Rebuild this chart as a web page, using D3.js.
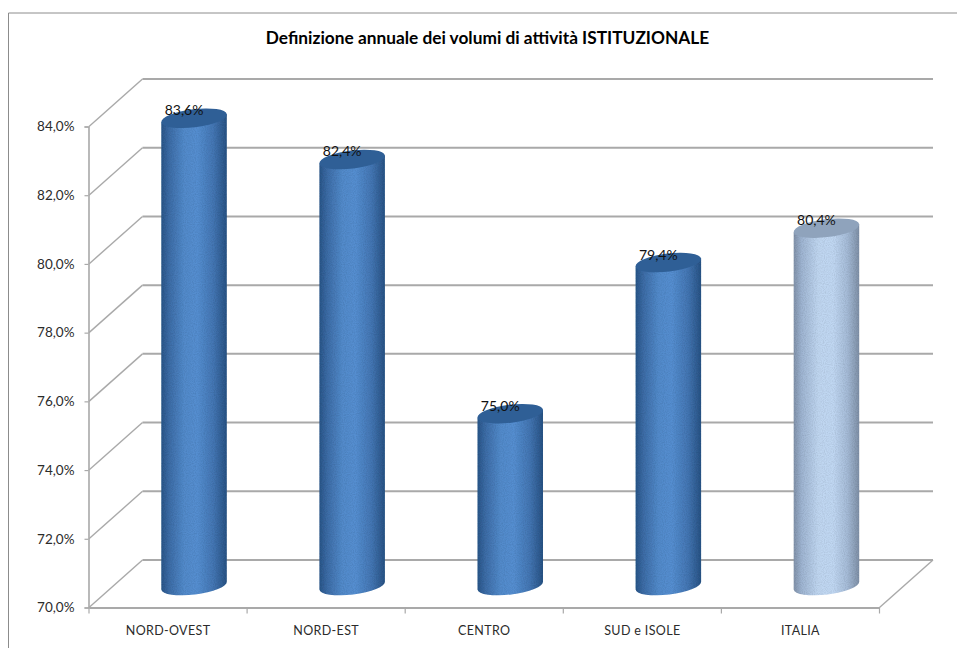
<!DOCTYPE html>
<html><head><meta charset="utf-8">
<script src="https://cdn.jsdelivr.net/npm/d3@7"></script>
<style>
html,body{margin:0;padding:0;background:#fff;overflow:hidden}
text{font-family:Lato,"Open Sans",sans-serif;fill:#1a1a1a}
</style></head><body>
<svg id="c" width="957" height="648"></svg>
<script>
const categories = ["NORD-OVEST","NORD-EST","CENTRO","SUD e ISOLE","ITALIA"];
const values = [83.6,82.4,75.0,79.4,80.4];
const labels = ["83,6%","82,4%","75,0%","79,4%","80,4%"];
const ticks = [70,72,74,76,78,80,82,84];
const title = "Definizione annuale dei volumi di attività ISTITUZIONALE";

const svg = d3.select("#c");
const x = d3.scaleBand().domain(categories).range([89,879.5]);
const y = d3.scaleLinear().domain([70,84]).range([607.5,126.5]);
const dx = 53.5, dy = -47.5;
const gridCol="#a9a9a9";

// frame (open on the right, cut off at the bottom)
svg.append("path").attr("d","M8.5,648V13H957").attr("fill","none").attr("stroke","#8c8c8c").attr("stroke-width",1);

svg.append("text").attr("x",487.5).attr("y",44).attr("text-anchor","middle")
  .attr("font-size",17.3).attr("font-weight",700).style("fill","#000").text(title);

// gradients and surface grain
const defs = svg.append("defs");
function grad(id,stops){
  const g=defs.append("linearGradient").attr("id",id).attr("x1",0).attr("x2",1).attr("y1",0).attr("y2",0);
  stops.forEach(s=>g.append("stop").attr("offset",s[0]).attr("stop-color",s[1]));
}
grad("blue",[[0,"#2a5588"],[.12,"#3d6ca6"],[.35,"#528aca"],[.55,"#558ed0"],[.8,"#4375b2"],[1,"#295384"]]);
grad("light",[[0,"#8192aa"],[.12,"#9eb4d1"],[.38,"#bfd6f0"],[.6,"#c0d7f2"],[.82,"#a4bad6"],[1,"#7e8fa6"]]);
const grain = defs.append("filter").attr("id","grain").attr("x",0).attr("y",0).attr("width","100%").attr("height","100%");
grain.append("feTurbulence").attr("type","fractalNoise").attr("baseFrequency",0.9).attr("numOctaves",1).attr("seed",4).attr("result","n");
grain.append("feColorMatrix").attr("in","n").attr("type","matrix")
  .attr("values","0 0 0 0 0  0 0 0 0 0  0 0 0 0 0  0.4 0 0 0 -0.15").attr("result","a");
grain.append("feComposite").attr("in","a").attr("in2","SourceAlpha").attr("operator","in").attr("result","g");
const m = grain.append("feMerge");
m.append("feMergeNode").attr("in","SourceGraphic");
m.append("feMergeNode").attr("in","g");

// walls: gridlines
const grid = svg.append("g").attr("fill","none");
ticks.forEach(t=>{
  grid.append("line").attr("x1",x.range()[0]).attr("x2",x.range()[0]+dx)
    .attr("y1",y(t)).attr("y2",y(t)+dy).attr("stroke",gridCol).attr("stroke-width",1.4);
  grid.append("line").attr("x1",x.range()[0]+dx).attr("x2",x.range()[1]+dx)
    .attr("y1",y(t)+dy).attr("y2",y(t)+dy).attr("stroke",gridCol).attr("stroke-width",2);
});
grid.append("line").attr("x1",x.range()[1]).attr("x2",x.range()[1]+dx)
  .attr("y1",y(70)).attr("y2",y(70)+dy).attr("stroke",gridCol).attr("stroke-width",1.4);

// axes
const ax = svg.append("g").attr("transform","translate(88.5,0)")
  .call(d3.axisLeft(y).tickValues(ticks).tickSize(4).tickPadding(10).tickFormat(d=>d.toFixed(1).replace(".",",")+"%"));
ax.select(".domain").attr("stroke",gridCol).attr("stroke-width",1.6);
ax.selectAll("line").attr("stroke",gridCol).attr("stroke-width",1.2);
ax.selectAll("text").attr("font-size",13.5).style("font-family","Lato,sans-serif").style("fill","#2b2b2b");

const bx = svg.append("g").attr("transform",`translate(0,${y(70)})`)
  .call(d3.axisBottom(x).tickSize(0).tickPadding(19));
bx.select(".domain").attr("stroke",gridCol).attr("stroke-width",2);
bx.selectAll("text").attr("font-size",12.5).style("font-family","Lato,sans-serif").style("fill","#2b2b2b").attr("letter-spacing",".35");
const edges = categories.map(c=>x(c)).concat([x.range()[1]]);
svg.append("g").selectAll("line").data(edges).join("line")
  .attr("x1",d=>d).attr("x2",d=>d).attr("y1",y(70)).attr("y2",y(70)+6)
  .attr("stroke",gridCol).attr("stroke-width",1.2);

// cylinders
const rx=33, ry=9, rot=-7, rad=rot*Math.PI/180;
const cxOf = c => x(c)+x.bandwidth()/2+26;
const topY = v => y(v)-22;
const cyl = svg.append("g").selectAll("g").data(categories).join("g");
cyl.each(function(c,i){
  const g=d3.select(this), cx=cxOf(c), ty=topY(values[i]), by=topY(70);
  const ex=rx*Math.cos(rad), ey=rx*Math.sin(rad);
  const fillId = i===4?"light":"blue";
  g.append("path")
   .attr("d",`M${cx-ex},${ty-ey}L${cx-ex},${by-ey}A${rx},${ry} ${rot} 0 0 ${cx+ex},${by+ey}L${cx+ex},${ty+ey}Z`)
   .attr("fill",`url(#${fillId})`).attr("filter","url(#grain)");
  g.append("ellipse").attr("cx",cx).attr("cy",ty).attr("rx",rx).attr("ry",ry)
   .attr("transform",`rotate(${rot} ${cx} ${ty})`)
   .attr("fill",i===4?"#8fa3bc":"#2f5f96");
  g.append("text").attr("x",cx-10).attr("y",ty-3).attr("text-anchor","middle")
   .attr("font-size",14).style("fill","#111").text(labels[i]);
});
</script>
</body></html>
